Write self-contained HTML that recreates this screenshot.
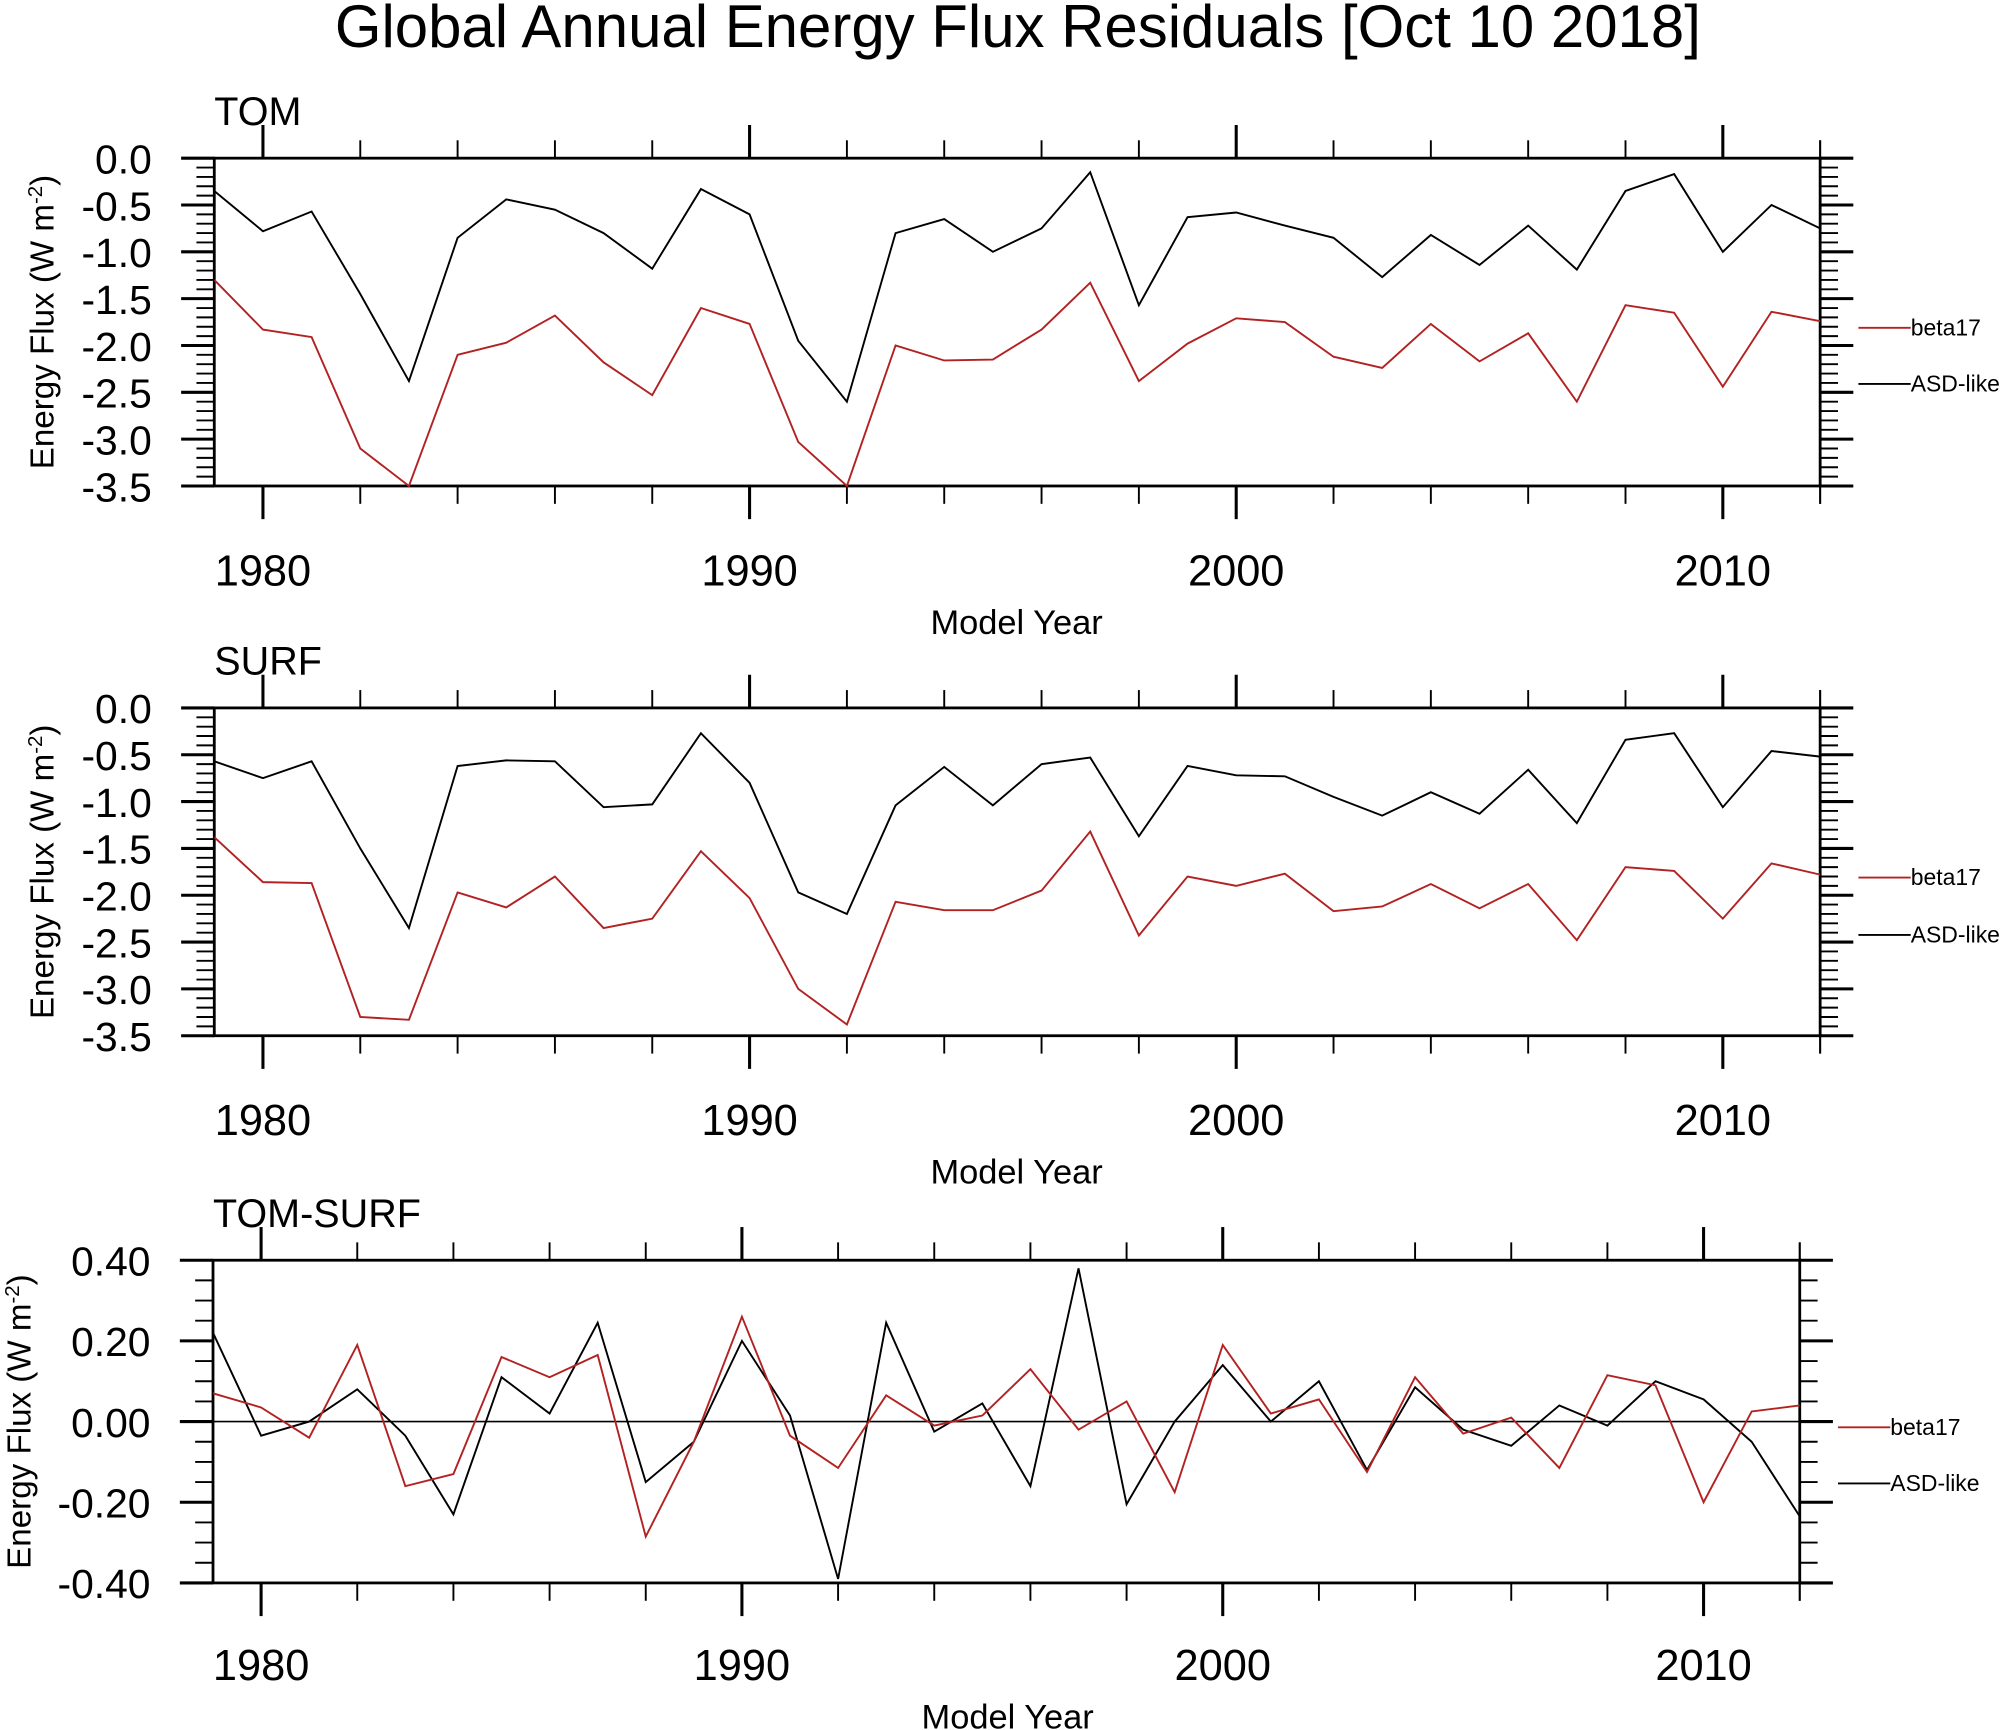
<!DOCTYPE html>
<html><head><meta charset="utf-8">
<style>
html,body{margin:0;padding:0;background:#fff;}
svg{display:block;font-family:"Liberation Sans",Arial,sans-serif;}
</style></head>
<body>
<svg id="chart" width="2000" height="1730" viewBox="0 0 1568 1356.3" preserveAspectRatio="none" xmlns="http://www.w3.org/2000/svg">
<text x="798" y="37" font-size="47" text-anchor="middle">Global Annual Energy Flux Residuals [Oct 10 2018]</text>
</svg>
<script>
const years = [];
for (let y = 1979; y <= 2012; y++) years.push(y);
const tomAsd = [-0.35,-0.78,-0.57,-1.45,-2.38,-0.85,-0.44,-0.55,-0.8,-1.18,-0.33,-0.6,-1.95,-2.6,-0.8,-0.65,-1.0,-0.75,-0.15,-1.57,-0.63,-0.58,-0.72,-0.85,-1.27,-0.82,-1.14,-0.72,-1.19,-0.35,-0.17,-1.0,-0.5,-0.75];
const tomBeta = [-1.3,-1.83,-1.91,-3.1,-3.5,-2.1,-1.97,-1.68,-2.18,-2.53,-1.6,-1.77,-3.03,-3.5,-2.0,-2.16,-2.15,-1.83,-1.33,-2.38,-1.98,-1.71,-1.75,-2.12,-2.24,-1.77,-2.17,-1.87,-2.6,-1.57,-1.65,-2.44,-1.64,-1.74];
const surfAsd = [-0.57,-0.75,-0.57,-1.5,-2.35,-0.62,-0.56,-0.57,-1.06,-1.03,-0.27,-0.8,-1.97,-2.2,-1.04,-0.63,-1.04,-0.6,-0.53,-1.37,-0.62,-0.72,-0.73,-0.95,-1.15,-0.9,-1.13,-0.66,-1.23,-0.34,-0.27,-1.06,-0.46,-0.52];
const surfBeta = [-1.38,-1.86,-1.87,-3.3,-3.33,-1.97,-2.13,-1.8,-2.35,-2.25,-1.53,-2.03,-3.0,-3.38,-2.07,-2.16,-2.16,-1.95,-1.32,-2.43,-1.8,-1.9,-1.77,-2.17,-2.12,-1.88,-2.14,-1.88,-2.48,-1.7,-1.74,-2.25,-1.66,-1.78];
const diffAsd = [0.22,-0.035,0.0,0.08,-0.035,-0.23,0.11,0.02,0.245,-0.15,-0.05,0.2,0.015,-0.39,0.245,-0.025,0.045,-0.16,0.38,-0.205,0.0,0.14,0.0,0.1,-0.12,0.085,-0.02,-0.06,0.04,-0.01,0.1,0.055,-0.05,-0.235];
const diffBeta = [0.07,0.035,-0.04,0.19,-0.16,-0.13,0.16,0.11,0.165,-0.285,-0.05,0.26,-0.035,-0.115,0.065,-0.01,0.015,0.13,-0.02,0.05,-0.175,0.19,0.02,0.055,-0.125,0.11,-0.03,0.01,-0.115,0.115,0.09,-0.2,0.025,0.04];
const xTickLabels = ["1980","1990","2000","2010"];
const fluxTickLabels = ["0.0","-0.5","-1.0","-1.5","-2.0","-2.5","-3.0","-3.5"];
const diffTickLabels = ["0.40","0.20","0.00","-0.20","-0.40"];
const seriesNames = ["beta17","ASD-like"];

const svg = document.getElementById('chart');
const NS = 'http://www.w3.org/2000/svg';
function mk(tag, attrs, parent) {
  const e = document.createElementNS(NS, tag);
  for (const k in attrs) e.setAttribute(k, attrs[k]);
  (parent || svg).appendChild(e);
  return e;
}

function panel(cfg) {
  const g = mk('g', {});
  
  
  const L = cfg.left, R = cfg.right, T = cfg.top, B = cfg.bottom;
  const xs = y => L + (y - 1979) / (2012 - 1979) * (R - L);
  const ys = v => T + (cfg.ymax - v) / (cfg.ymax - cfg.ymin) * (B - T);
  const fr = mk('rect', {x: L, y: T, width: R - L, height: B - T, fill: 'none', stroke: '#000', 'stroke-width': 2.2}, g);
  
  
  for (let y = 1980; y <= 2012; y += 2) {
    const major = (y % 10 === 0);
    const len = major ? 26 : 14;
    const x = xs(y);
    mk('line', {x1: x, y1: T, x2: x, y2: T - len, stroke: '#000', 'stroke-width': major ? 2.4 : 1.5}, g);
    mk('line', {x1: x, y1: B, x2: x, y2: B + len, stroke: '#000', 'stroke-width': major ? 2.4 : 1.5}, g);
  }
  mk('line', {x1: R, y1: T, x2: R, y2: T - 14, stroke: '#000', 'stroke-width': 1.5}, g);
  mk('line', {x1: R, y1: B, x2: R, y2: B + 14, stroke: '#000', 'stroke-width': 1.5}, g);
  xTickLabels.forEach(lab => {
    const t = mk('text', {x: xs(+lab), y: cfg.xLabelY, 'font-size': 34, 'text-anchor': 'middle'}, g);
    t.textContent = lab;
    
    
  });
  const nMinor = Math.round((cfg.ymax - cfg.ymin) / cfg.minorStep);
  for (let i = 0; i <= nMinor; i++) {
    const v = cfg.ymax - i * cfg.minorStep;
    const major = (i % cfg.minorPerMajor === 0);
    const len = major ? 26 : 14;
    const y = ys(v);
    mk('line', {x1: L, y1: y, x2: L - len, y2: y, stroke: '#000', 'stroke-width': major ? 2.4 : 1.5}, g);
    mk('line', {x1: R, y1: y, x2: R + len, y2: y, stroke: '#000', 'stroke-width': major ? 2.4 : 1.5}, g);
  }
  cfg.yLabels.forEach(lab => {
    const t = mk('text', {x: L - 49, y: ys(+lab) + 12, 'font-size': 32, 'text-anchor': 'end'}, g);
    t.textContent = lab;
    
    
  });
  if (cfg.zeroLine) {
    const z = mk('line', {x1: L, y1: ys(0), x2: R, y2: ys(0), stroke: '#000', 'stroke-width': 1.3}, g);
    
    
  }
  const clipId = cfg.name + '-clip';
  const cp = mk('clipPath', {id: clipId}, g);
  mk('rect', {x: L, y: T - 2, width: R - L, height: B - T + 4}, cp);
  [[cfg.asd, '#000', 'asd-like'], [cfg.beta, '#b22222', 'beta17']].forEach(([vals, col, nm]) => {
    const pts = vals.map((v, i) => xs(years[i]).toFixed(2) + ',' + ys(v).toFixed(2)).join(' ');
    const pl = mk('polyline', {points: pts, fill: 'none', stroke: col, 'stroke-width': 1.5, 'clip-path': 'url(#' + clipId + ')'}, g);
    
    
  });
  const pt = mk('text', {x: L, y: T - 26, 'font-size': 31}, g);
  pt.textContent = cfg.title;
  
  
  const xt = mk('text', {x: cfg.xTitleX, y: cfg.xTitleY, 'font-size': 27, 'text-anchor': 'middle'}, g);
  xt.textContent = 'Model Year';
  
  
  const cy = (T + B) / 2;
  const yt = mk('text', {x: cfg.yTitleX, y: cy, 'font-size': 26, 'text-anchor': 'middle', transform: 'rotate(-90 ' + cfg.yTitleX + ' ' + cy + ')'}, g);
  yt.innerHTML = 'Energy Flux (W m<tspan dy="-9" font-size="16">-2</tspan><tspan dy="9">)</tspan>';
  
  
  const lx = R + 30;
  [[seriesNames[0], '#b22222', cfg.legY1], [seriesNames[1], '#000', cfg.legY2]].forEach(([nm, col, ly]) => {
    const lg = mk('g', {}, g);
    
    
    mk('line', {x1: lx, y1: ly, x2: lx + 41, y2: ly, stroke: col, 'stroke-width': 1.5}, lg);
    const t = mk('text', {x: lx + 41, y: ly + 6, 'font-size': 18}, lg);
    t.textContent = nm;
  });
}

panel({name: 'tom', title: 'TOM', left: 168, right: 1427, top: 124, bottom: 381, ymin: -3.5, ymax: 0, minorStep: 0.1, minorPerMajor: 5,
  yLabels: fluxTickLabels, asd: tomAsd, beta: tomBeta, xLabelY: 459, xTitleX: 797, xTitleY: 497, yTitleX: 42, legY1: 257, legY2: 301});
panel({name: 'surf', title: 'SURF', left: 168, right: 1427, top: 555, bottom: 812, ymin: -3.5, ymax: 0, minorStep: 0.1, minorPerMajor: 5,
  yLabels: fluxTickLabels, asd: surfAsd, beta: surfBeta, xLabelY: 890, xTitleX: 797, xTitleY: 928, yTitleX: 42, legY1: 688, legY2: 733});
panel({name: 'tom-surf', title: 'TOM-SURF', left: 167, right: 1411, top: 988, bottom: 1241, ymin: -0.4, ymax: 0.4, minorStep: 0.05, minorPerMajor: 4,
  yLabels: diffTickLabels, asd: diffAsd, beta: diffBeta, xLabelY: 1317, xTitleX: 790, xTitleY: 1355, yTitleX: 24, legY1: 1119, legY2: 1163, zeroLine: true});
</script>
</body></html>
